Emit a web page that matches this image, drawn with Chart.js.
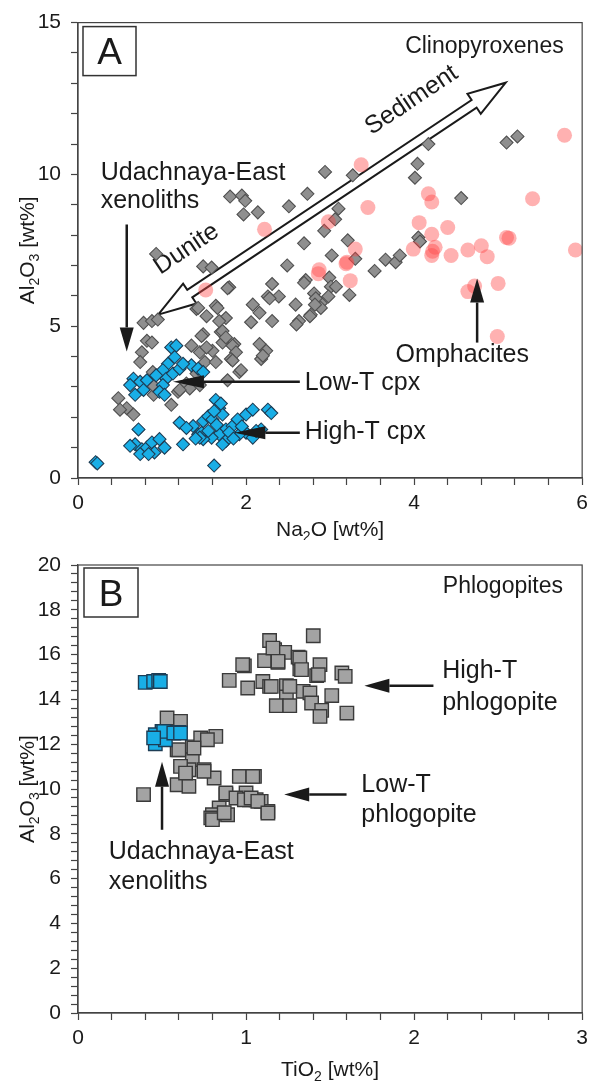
<!DOCTYPE html>
<html>
<head>
<meta charset="utf-8">
<title>Al2O3 in clinopyroxenes and phlogopites</title>
<script src="https://cdn.jsdelivr.net/npm/chart.js@4.4.1/dist/chart.umd.min.js"></script>
<style>
  html, body { margin: 0; padding: 0; background: #fff; }
  .panel { position: absolute; left: 0; width: 594px; }
  #panel-a { top: 0;     height: 540px; }
  #panel-b { top: 540px; height: 543px; }
</style>
</head>
<body>
<div class="panel" id="panel-a"><canvas id="chart-a"></canvas></div>
<div class="panel" id="panel-b"><canvas id="chart-b"></canvas></div>
<script>
const FONT = '"Liberation Sans", Arial, Helvetica, sans-serif';
const INK  = '#1a1a1a';
const AXIS = '#444444';

// ── Panel A: clinopyroxenes, [Na2O, Al2O3] in wt% ──────────────────────────
const cpxOther = [
  [1.81, 9.27], [1.95, 9.30], [1.99, 9.13], [1.97, 8.68], [2.14, 8.75], [2.51, 8.95],
  [2.73, 9.36], [2.94, 10.08], [0.93, 7.38], [1.49, 6.97], [1.59, 6.93], [1.80, 6.28],
  [2.31, 6.39], [2.26, 5.98], [2.39, 5.98], [2.49, 7.00], [2.69, 7.73], [2.71, 6.52],
  [2.93, 8.14], [2.08, 5.71], [1.64, 5.67], [1.41, 5.57], [1.53, 5.33], [1.76, 5.27],
  [2.06, 5.13], [2.31, 5.17], [2.59, 5.71], [2.63, 5.17], [2.77, 5.38], [2.81, 6.08],
  [2.89, 5.76], [0.78, 5.11], [0.88, 5.17], [0.95, 5.22], [0.82, 4.52], [1.49, 4.73],
  [1.70, 4.81], [1.72, 4.46], [1.86, 4.41], [2.16, 4.41], [4.17, 11.00], [5.10, 11.05],
  [5.23, 11.25], [3.27, 9.97], [4.04, 10.35], [4.01, 9.89], [4.56, 9.22], [3.10, 8.87],
  [3.06, 8.52], [3.21, 7.83], [3.02, 7.33], [3.30, 7.22], [3.53, 6.82], [3.66, 7.19],
  [3.78, 7.11], [3.83, 7.33], [4.05, 7.92], [4.07, 7.79], [2.69, 6.43], [2.99, 6.60],
  [3.01, 6.30], [2.83, 5.92], [2.98, 5.98], [3.07, 6.30], [3.23, 6.03], [2.76, 5.33],
  [2.89, 5.60], [2.82, 5.71], [2.60, 5.06], [1.78, 6.25], [1.43, 5.60], [1.66, 5.60],
  [1.68, 5.17], [1.72, 4.84], [1.76, 4.63], [1.84, 4.36], [1.88, 4.14], [1.82, 3.92],
  [1.92, 3.49], [1.78, 3.22], [1.35, 4.36], [1.45, 4.14], [1.51, 3.82], [1.60, 4.19],
  [1.64, 3.82], [1.41, 3.44], [1.29, 3.11], [1.45, 3.06], [1.19, 2.84], [1.33, 2.95],
  [1.11, 2.41], [2.16, 5.44], [2.28, 5.92], [2.24, 4.19], [2.18, 3.92], [0.90, 2.74],
  [0.88, 4.46], [0.76, 4.14], [0.74, 3.82], [0.48, 2.63], [0.58, 2.30], [0.66, 2.09],
  [0.50, 2.25], [0.89, 3.49], [0.89, 3.06], [1.21, 2.90], [1.47, 4.68], [1.53, 4.30],
  [1.84, 3.87], [1.94, 3.55], [2.20, 4.03],
];
const cpxUdachnaya = [
  [1.11, 4.30], [1.17, 4.36], [1.15, 3.98], [1.07, 3.76], [1.01, 3.55], [1.05, 3.27],
  [1.01, 3.06], [0.97, 2.84], [1.03, 2.74], [1.13, 3.44], [1.21, 3.60], [1.35, 3.71],
  [1.43, 3.60], [1.49, 3.49], [1.25, 3.76], [0.93, 3.38], [0.66, 3.27], [0.74, 3.17],
  [0.62, 3.06], [0.78, 2.90], [0.68, 2.74], [0.82, 3.22], [0.68, 1.11], [0.76, 0.95],
  [0.82, 1.00], [0.88, 1.17], [0.97, 1.28], [1.03, 1.00], [0.91, 0.84], [0.74, 0.79],
  [0.62, 1.06], [0.84, 0.79], [0.72, 1.60], [1.21, 1.82], [1.25, 1.11], [1.37, 1.71],
  [1.43, 1.44], [1.49, 1.87], [1.55, 2.03], [1.60, 1.93], [1.64, 2.57], [1.68, 2.30],
  [1.72, 2.09], [1.76, 1.60], [1.68, 1.44], [1.59, 1.33], [1.49, 1.28], [1.84, 1.71],
  [1.90, 1.93], [2.00, 2.09], [2.08, 2.25], [2.18, 1.60], [2.26, 2.25], [2.30, 2.14],
  [2.00, 1.49], [1.92, 1.44], [2.08, 1.33], [1.76, 1.22], [1.72, 1.11], [1.47, 1.49],
  [1.29, 1.65], [1.45, 1.33], [1.55, 1.55], [1.65, 1.75], [1.80, 1.50], [1.95, 1.70],
  [1.70, 2.45], [1.62, 2.20], [1.85, 1.30], [2.12, 1.55], [1.40, 1.30],
  [1.62, 0.41], [0.21, 0.52], [0.23, 0.48],
];
const cpxOmphacite = [
  [5.79, 11.29], [3.37, 10.32], [3.45, 8.91], [4.17, 9.36], [4.21, 9.09], [5.41, 9.20],
  [2.98, 8.44], [4.06, 8.41], [4.21, 8.03], [4.40, 8.25], [5.10, 7.92], [5.13, 7.90],
  [5.92, 7.51], [3.30, 7.54], [3.99, 7.54], [4.22, 7.47], [4.25, 7.60], [4.44, 7.33],
  [4.64, 7.51], [4.80, 7.65], [4.87, 7.29], [4.21, 7.33], [3.20, 7.11], [2.87, 6.86],
  [2.86, 6.73], [3.24, 6.50], [5.00, 6.41], [4.64, 6.14], [4.72, 6.32], [4.99, 4.66],
  [2.22, 8.19], [1.52, 6.19], [3.19, 7.06],
];

// ── Panel B: phlogopites, [TiO2, Al2O3] in wt% ─────────────────────────────
const phlOther = [
  [0.53, 13.17], [0.61, 13.02], [0.59, 11.75], [0.68, 11.88], [0.73, 12.28], [0.82, 12.35],
  [0.77, 12.20], [0.68, 11.31], [0.66, 10.86], [0.75, 10.86], [0.81, 10.49], [0.64, 10.56],
  [0.59, 10.19], [0.66, 10.12], [0.39, 9.75], [0.96, 10.56], [1.05, 10.56], [0.88, 9.75],
  [0.69, 11.83], [0.60, 11.75], [0.61, 11.01], [0.64, 10.71], [0.75, 10.79], [0.88, 9.82],
  [1.04, 10.56], [1.00, 9.82], [0.94, 9.60], [1.02, 9.52], [1.06, 9.52], [1.09, 9.45],
  [1.13, 9.00], [0.84, 9.15], [0.80, 8.85], [0.79, 8.71], [0.89, 8.85], [0.99, 9.52],
  [1.03, 9.60], [1.07, 9.45], [1.13, 8.93], [0.80, 8.63], [0.87, 8.94],
  [1.40, 16.84], [1.14, 16.63], [1.17, 16.22], [1.23, 16.10], [1.31, 15.89], [1.11, 15.73],
  [1.19, 15.65], [0.99, 15.50], [0.98, 15.55], [1.32, 15.36], [1.44, 15.55], [1.42, 15.06],
  [1.57, 15.18], [1.59, 15.03], [0.90, 14.85], [1.10, 14.80], [1.01, 14.51], [1.14, 14.58],
  [1.24, 14.61], [1.34, 14.36], [1.38, 14.29], [1.51, 14.17], [1.24, 14.11], [1.18, 13.72],
  [1.26, 13.72], [1.39, 13.84], [1.45, 13.51], [1.44, 13.24], [1.60, 13.39], [1.16, 16.29],
  [1.19, 15.70], [1.32, 15.85], [1.33, 15.33], [1.43, 15.10], [1.26, 14.58], [1.15, 14.58],
];
const phlUdachnaya = [
  [0.40, 14.76], [0.45, 14.80], [0.48, 14.85], [0.49, 14.80],
  [0.46, 12.02], [0.50, 12.57], [0.55, 12.53], [0.60, 12.53], [0.46, 12.42], [0.52, 12.20],
  [0.51, 12.57], [0.57, 12.50], [0.61, 12.50], [0.45, 12.28],
];

// Labelled ticks (minor ticks are drawn unlabelled between them)
const naTickLabels  = [0, 2, 4, 6];
const alTickLabelsA = [0, 5, 10, 15];
const tiTickLabels  = [0, 1, 2, 3];
const alTickLabelsB = [0, 2, 4, 6, 8, 10, 12, 14, 16, 18, 20];

Chart.defaults.font.family = FONT;

const toXY = arr => arr.map(([x, y]) => ({ x, y }));

/** Linear axis with outward ticks every `step`, labels only at `labels`. */
function axis(min, max, step, labels, fitKey, fitSize, pad) {
  return {
    type: 'linear', min, max,
    afterFit: s => { s[fitKey] = fitSize; },
    border: { display: true, color: AXIS, width: 1.2 },
    grid: {
      display: true, drawOnChartArea: false, drawTicks: true,
      tickLength: 7, color: AXIS, tickColor: AXIS, tickWidth: 1.2,
    },
    ticks: {
      stepSize: step, autoSkip: false, maxRotation: 0, padding: pad,
      color: INK, font: { family: FONT, size: 21 },
      callback: v => labels.some(l => Math.abs(l - v) < 1e-6) ? String(Math.round(v)) : '',
    },
  };
}

// ── Drawing helpers ─────────────────────────────────────────────────────────
function label(ctx, text, x, y, size, align = 'left') {
  ctx.font = `${size}px ${FONT}`;
  ctx.textAlign = align;
  ctx.textBaseline = 'alphabetic';
  ctx.fillStyle = INK;
  ctx.fillText(text, x, y);
}

// parts: [text, isSubscript]
function richLabel(ctx, parts, x, y, size) {
  const base = `${size}px ${FONT}`, sub = `${Math.round(size * 0.65)}px ${FONT}`;
  let w = 0;
  parts.forEach(([t, s]) => { ctx.font = s ? sub : base; w += ctx.measureText(t).width; });
  let cx = x - w / 2;
  ctx.textAlign = 'left';
  ctx.textBaseline = 'alphabetic';
  ctx.fillStyle = INK;
  parts.forEach(([t, s]) => {
    ctx.font = s ? sub : base;
    ctx.fillText(t, cx, s ? y + size * 0.22 : y);
    cx += ctx.measureText(t).width;
  });
}

function rotatedLabel(ctx, text, x, y, angle, size) {
  ctx.save();
  ctx.translate(x, y);
  ctx.rotate(angle);
  ctx.font = `${size}px ${FONT}`;
  ctx.textAlign = 'center';
  ctx.textBaseline = 'middle';
  ctx.fillStyle = INK;
  ctx.fillText(text, 0, 0);
  ctx.restore();
}

function arrow(ctx, x0, y0, x1, y1, headLen, headHalf) {
  const a = Math.atan2(y1 - y0, x1 - x0);
  const bx = x1 - headLen * Math.cos(a), by = y1 - headLen * Math.sin(a);
  ctx.strokeStyle = INK;
  ctx.fillStyle = INK;
  ctx.lineWidth = 2.5;
  ctx.beginPath(); ctx.moveTo(x0, y0); ctx.lineTo(bx, by); ctx.stroke();
  ctx.beginPath();
  ctx.moveTo(x1, y1);
  ctx.lineTo(bx + headHalf * Math.sin(a), by - headHalf * Math.cos(a));
  ctx.lineTo(bx - headHalf * Math.sin(a), by + headHalf * Math.cos(a));
  ctx.closePath();
  ctx.fill();
}

// Open, double-headed trend arrow
function hollowArrow(ctx, x0, y0, x1, y1) {
  const len = Math.hypot(x1 - x0, y1 - y0);
  const ux = (x1 - x0) / len, uy = (y1 - y0) / len, nx = -uy, ny = ux;
  const L = 38, H = 12, w = 4.5;
  const P = (t, s) => [x0 + ux * t + nx * s, y0 + uy * t + ny * s];
  const pts = [P(0, 0), P(L, H), P(L, w), P(len - L, w), P(len - L, H), P(len, 0),
               P(len - L, -H), P(len - L, -w), P(L, -w), P(L, -H)];
  ctx.beginPath();
  pts.forEach(([x, y], i) => (i ? ctx.lineTo(x, y) : ctx.moveTo(x, y)));
  ctx.closePath();
  ctx.fillStyle = '#fff';
  ctx.fill();
  ctx.lineWidth = 2;
  ctx.strokeStyle = INK;
  ctx.stroke();
}

function letterBox(ctx, a, letter, dx, dy, w, h) {
  ctx.lineWidth = 1.5;
  ctx.strokeStyle = '#333';
  ctx.strokeRect(a.left + dx, a.top + dy, w, h);
  label(ctx, letter, a.left + dx + w / 2, a.top + dy + h / 2 + 13, 37, 'center');
}

/** Plugin: frame, axis titles, and annotations under / over the points. */
function decor(under, over) {
  return {
    id: 'decor',
    beforeDatasetsDraw(chart) {
      const { ctx } = chart;
      ctx.save();
      under(chart, ctx);
      ctx.restore();
    },
    afterDraw(chart) {
      const { ctx, chartArea: a } = chart;
      ctx.save();
      ctx.strokeStyle = AXIS;
      ctx.lineWidth = 1.2;
      ctx.strokeRect(a.left, a.top, a.right - a.left, a.bottom - a.top);
      over(chart, ctx);
      ctx.restore();
    },
  };
}

function yTitle(ctx, a) {
  ctx.save();
  ctx.translate(34, (a.top + a.bottom) / 2);
  ctx.rotate(-Math.PI / 2);
  richLabel(ctx, [['Al', 0], ['2', 1], ['O', 0], ['3', 1], [' [wt%]', 0]], 0, 0, 21);
  ctx.restore();
}

// ── Panel A ─────────────────────────────────────────────────────────────────
const trendFrom = [0.954, 5.38];   // Dunite end
const trendTo   = [5.09, 13.02];   // Sediment end

function drawUnderA(chart, ctx) {
  const X = v => chart.scales.x.getPixelForValue(v);
  const Y = v => chart.scales.y.getPixelForValue(v);
  const x0 = X(trendFrom[0]), y0 = Y(trendFrom[1]), x1 = X(trendTo[0]), y1 = Y(trendTo[1]);
  hollowArrow(ctx, x0, y0, x1, y1);
  const ang = Math.atan2(y1 - y0, x1 - x0);
  rotatedLabel(ctx, 'Dunite', X(1.29), Y(7.54), ang, 25);
  rotatedLabel(ctx, 'Sediment', X(3.97), Y(12.44), ang, 25);
}

function drawOverA(chart, ctx) {
  const a = chart.chartArea;
  const X = v => chart.scales.x.getPixelForValue(v);
  const Y = v => chart.scales.y.getPixelForValue(v);
  letterBox(ctx, a, 'A', 5, 4, 53, 49);
  label(ctx, 'Clinopyroxenes', X(5.78), Y(13.99), 23, 'right');

  label(ctx, 'Udachnaya-East', X(0.27), Y(9.81), 25);
  label(ctx, 'xenoliths', X(0.27), Y(8.90), 25);
  arrow(ctx, X(0.58), Y(8.35), X(0.58), Y(4.17), 24, 7);

  label(ctx, 'Low-T cpx', X(2.70), Y(2.91), 25);
  arrow(ctx, X(2.64), Y(3.17), X(1.13), Y(3.17), 31, 6.5);
  label(ctx, 'High-T cpx', X(2.70), Y(1.29), 25);
  arrow(ctx, X(2.64), Y(1.49), X(1.86), Y(1.49), 31, 6.5);

  label(ctx, 'Omphacites', X(3.78), Y(3.82), 25);
  arrow(ctx, X(4.75), Y(4.46), X(4.75), Y(6.57), 24, 7);

  richLabel(ctx, [['Na', 0], ['2', 1], ['O [wt%]', 0]], (a.left + a.right) / 2, a.bottom + 58, 21);
  yTitle(ctx, a);
}

new Chart(document.getElementById('chart-a'), {
  type: 'scatter',
  data: {
    datasets: [
      {
        label: 'Udachnaya-East xenoliths', data: toXY(cpxUdachnaya), order: 1,
        pointStyle: 'rectRot', pointRadius: 6.5,
        backgroundColor: '#19aee6', borderColor: '#1d3d55', borderWidth: 1.1,
      },
      {
        label: 'Omphacites', data: toXY(cpxOmphacite), order: 2,
        pointStyle: 'circle', pointRadius: 7.5,
        backgroundColor: 'rgba(255,70,70,0.42)', borderWidth: 0,
      },
      {
        label: 'Other cpx', data: toXY(cpxOther), order: 3,
        pointStyle: 'rectRot', pointRadius: 6.5,
        backgroundColor: '#8f8f8f', borderColor: '#505050', borderWidth: 1.1,
      },
    ],
  },
  options: {
    responsive: true, maintainAspectRatio: false, animation: false, devicePixelRatio: 1,
    layout: { padding: { top: 15, right: 9, left: 0, bottom: 0 } },
    plugins: { legend: { display: false }, tooltip: { enabled: false } },
    scales: {
      x: axis(0, 6, 0.4, naTickLabels, 'height', 62, 6),
      y: axis(0, 15, 1, alTickLabelsA, 'width', 78, 10),
    },
  },
  plugins: [decor(drawUnderA, drawOverA)],
});

// ── Panel B ─────────────────────────────────────────────────────────────────
function drawOverB(chart, ctx) {
  const a = chart.chartArea;
  const X = v => chart.scales.x.getPixelForValue(v);
  const Y = v => chart.scales.y.getPixelForValue(v);
  letterBox(ctx, a, 'B', 6, 3, 54, 49);
  label(ctx, 'Phlogopites', X(2.886), Y(18.76), 23, 'right');

  label(ctx, 'High-T', X(2.167), Y(14.97), 25);
  label(ctx, 'phlogopite', X(2.167), Y(13.54), 25);
  arrow(ctx, X(2.115), Y(14.61), X(1.704), Y(14.61), 25, 7);

  label(ctx, 'Low-T', X(1.686), Y(9.88), 25);
  label(ctx, 'phlogopite', X(1.686), Y(8.54), 25);
  arrow(ctx, X(1.598), Y(9.75), X(1.227), Y(9.75), 25, 7);

  label(ctx, 'Udachnaya-East', X(0.183), Y(6.89), 25);
  label(ctx, 'xenoliths', X(0.183), Y(5.55), 25);
  arrow(ctx, X(0.50), Y(8.18), X(0.50), Y(11.22), 25, 7);

  richLabel(ctx, [['TiO', 0], ['2', 1], [' [wt%]', 0]], (a.left + a.right) / 2, a.bottom + 63, 21);
  yTitle(ctx, a);
}

new Chart(document.getElementById('chart-b'), {
  type: 'scatter',
  data: {
    datasets: [
      {
        label: 'Udachnaya-East xenoliths', data: toXY(phlUdachnaya), order: 1,
        pointStyle: 'rect', pointRadius: 9.5,
        backgroundColor: '#19aee6', borderColor: '#1d3d55', borderWidth: 1.4,
      },
      {
        label: 'Other phlogopite', data: toXY(phlOther), order: 2,
        pointStyle: 'rect', pointRadius: 9.5,
        backgroundColor: '#a3a3a3', borderColor: '#3a3a3a', borderWidth: 1.4,
      },
    ],
  },
  options: {
    responsive: true, maintainAspectRatio: false, animation: false, devicePixelRatio: 1,
    layout: { padding: { top: 25, right: 6, left: 0, bottom: 0 } },
    plugins: { legend: { display: false }, tooltip: { enabled: false } },
    scales: {
      x: axis(0, 3, 0.2, tiTickLabels, 'height', 70, 6),
      y: axis(0, 20, 0.4, alTickLabelsB, 'width', 78, 10),
    },
  },
  plugins: [decor(() => {}, drawOverB)],
});
</script>
</body>
</html>
